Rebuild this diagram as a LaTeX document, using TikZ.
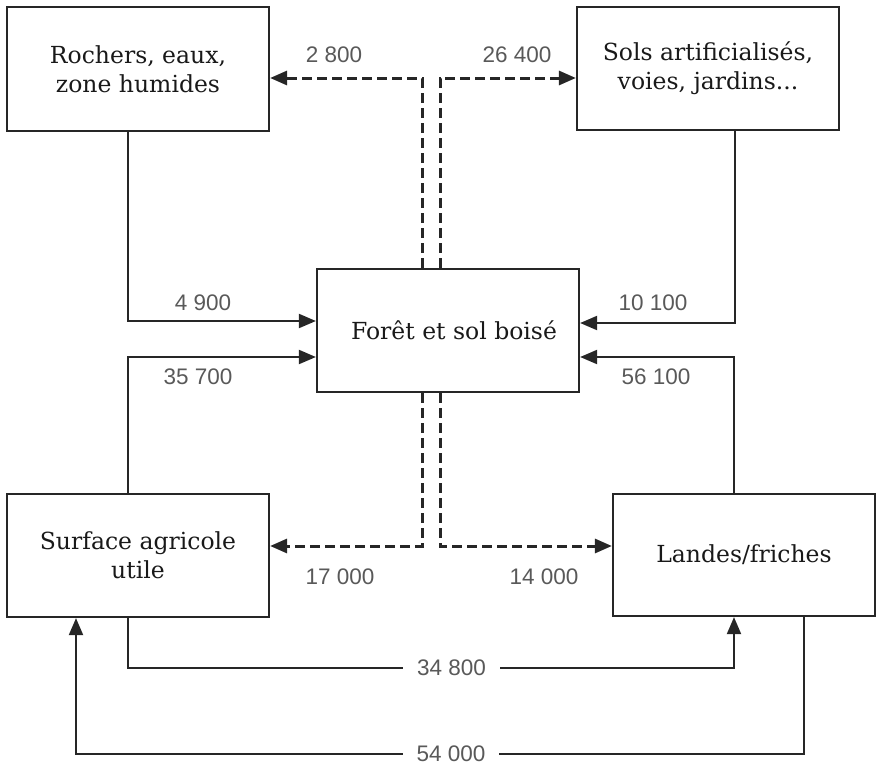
\documentclass[tikz,border=0pt]{standalone}
\usepackage{fontspec}
\setmainfont{DejaVu Serif}
\newfontfamily\numfont{Liberation Sans}
\usetikzlibrary{arrows.meta}
\begin{document}
\begin{tikzpicture}[x=1pt,y=-1pt,
  box/.style={draw=black!85,line width=2.2pt,inner sep=0pt,align=center,
    text=black!90,font=\fontsize{23.5}{29}\selectfont},
  arr/.style={line width=2pt,draw=black!85,-{Triangle[length=17pt,width=14pt]}},
  darr/.style={arr,dash pattern=on 10pt off 5pt,line width=3pt},
  lab/.style={text=black!65,font=\numfont\fontsize{22.5}{24}\selectfont,inner sep=0pt},
  glab/.style={lab,fill=white,inner xsep=14pt,inner ysep=2pt}]
\useasboundingbox (0,0) rectangle (881,769);
\node[box,minimum width=262pt,minimum height=124pt] (roch) at (138,69) {Rochers, eaux,\\zone humides};
\node[box,minimum width=262pt,minimum height=123pt] (sols) at (708,68.5) {Sols artificialisés,\\voies, jardins...};
\node[box,minimum width=262pt,minimum height=123pt] (foret) at (448,330.5) {\hspace*{12pt}Forêt et sol boisé};
\node[box,minimum width=262pt,minimum height=123pt] (sau) at (138,555.5) {Surface agricole\\utile};
\node[box,minimum width=262pt,minimum height=122pt] (landes) at (744,555) {Landes/friches};
% helper coordinates
\coordinate (xa) at (128,0);
\coordinate (xb) at (735,0);
\coordinate (xc) at (734,0);
\coordinate (xd) at (804,0);
\coordinate (xe) at (76,0);
\coordinate (xf) at (422,0);
\coordinate (xg) at (440,0);
\coordinate (ya) at (0,321);
\coordinate (yb) at (0,357);
\coordinate (yc) at (0,323);
\coordinate (yd) at (0,78);
\coordinate (ye) at (0,546);
% solid flows into forest
\draw[arr] (roch.south -| xa) |- (foret.west |- ya);
\draw[arr] (sau.north -| xa) |- (foret.west |- yb);
\draw[arr] (sols.south -| xb) |- (foret.east |- yc);
\draw[arr] (landes.north -| xc) |- (foret.east |- yb);
% dashed flows out of forest
\draw[darr] (foret.north -| xf) |- (roch.east |- yd);
\draw[darr] (foret.north -| xg) |- (sols.west |- yd);
\draw[darr] (foret.south -| xf) |- (sau.east |- ye);
\draw[darr] (foret.south -| xg) |- (landes.west |- ye);
% bottom flows
\coordinate (p1) at (128,668);
\coordinate (p2) at (734,668);
\coordinate (p3) at (804,754);
\coordinate (p4) at (76,754);
\draw[arr] (sau.south -| xa) -- (p1) -- node[glab,pos=0.534] {34 800} (p2) -- (landes.south -| xc);
\draw[arr] (landes.south -| xd) -- (p3) -- node[glab,pos=0.485] {54 000} (p4) -- (sau.south -| xe);
% labels
\node[lab] (l1) at (334,55) {2 800};
\node[lab] (l2) at (517,55) {26 400};
\node[lab] (l3) at (203,303) {4 900};
\node[lab] (l4) at (198,377) {35 700};
\node[lab] (l5) at (653,303) {10 100};
\node[lab] (l6) at (656,377) {56 100};
\node[lab] (l7) at (340,577) {17 000};
\node[lab] (l8) at (544,577) {14 000};
\end{tikzpicture}
\end{document}
